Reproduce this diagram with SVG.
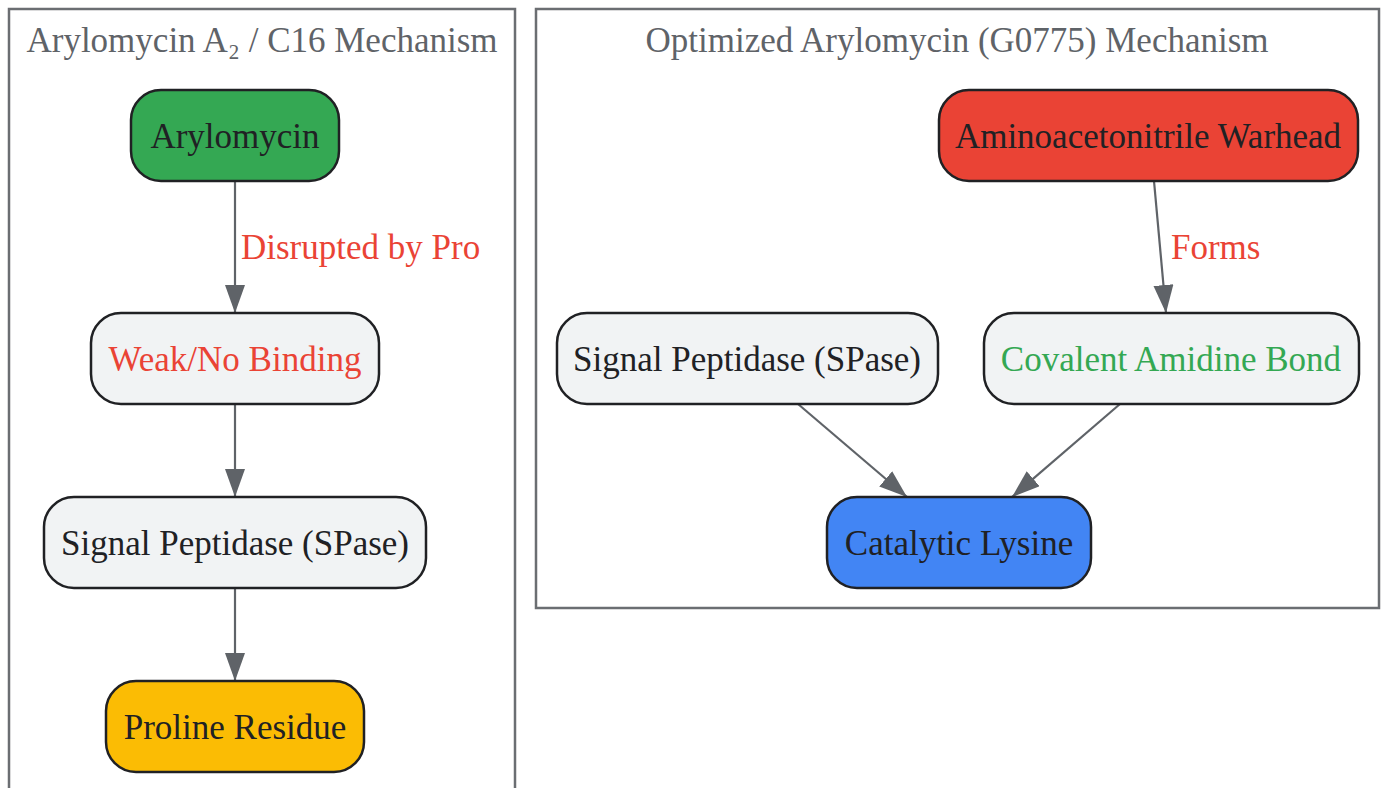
<svg xmlns="http://www.w3.org/2000/svg" width="1383" height="788" viewBox="0 0 1383 788">
<defs>
<marker id="arr" markerUnits="userSpaceOnUse" markerWidth="30" markerHeight="22" refX="28" refY="10" orient="auto">
<path d="M0,0 L28,10 L0,20 z" fill="#5f6368"/>
</marker>
<style>
text{font-family:"Liberation Serif","Times New Roman",serif;font-size:35px;}
.cl{fill:none;stroke:#6b6e72;stroke-width:2.5;}
.ct{fill:#5f6368;text-anchor:middle;}
.n{stroke:#202124;stroke-width:2.5;}
.nt{fill:#202124;text-anchor:middle;}
.e{fill:none;stroke:#5f6368;stroke-width:2.2;marker-end:url(#arr);}
.el{fill:#ea4335;}
</style>
</defs>
<rect width="1383" height="788" fill="#ffffff"/>
<g id="cluster-left">
<rect class="cl" x="9" y="9" width="506" height="800"/>
<text class="ct" x="262" y="52">Arylomycin A₂ / C16 Mechanism</text>
</g>
<g id="cluster-right">
<rect class="cl" x="536" y="9" width="843" height="599"/>
<text class="ct" x="957" y="52">Optimized Arylomycin (G0775) Mechanism</text>
</g>
<g id="connectors">
<line class="e" x1="235" y1="181" x2="235" y2="313"/>
<line class="e" x1="235" y1="404" x2="235" y2="497"/>
<line class="e" x1="235" y1="588" x2="235" y2="681"/>
<line class="e" x1="1154" y1="181" x2="1166" y2="313"/>
<line class="e" x1="798" y1="404" x2="907" y2="497"/>
<line class="e" x1="1120" y1="404" x2="1012" y2="497"/>
<text class="el" x="241" y="259">Disrupted by Pro</text>
<text class="el" x="1171" y="259">Forms</text>
</g>
<g id="node-arylomycin">
<rect class="n" x="131" y="90" width="208" height="91" rx="30" fill="#34a853"/>
<text class="nt" x="235" y="148">Arylomycin</text>
</g>
<g id="node-weak">
<rect class="n" x="91" y="313" width="288" height="91" rx="30" fill="#f1f3f4"/>
<text class="nt" x="235" y="371" fill="#ea4335" style="fill:#ea4335">Weak/No Binding</text>
</g>
<g id="node-spase-left">
<rect class="n" x="44" y="497" width="382" height="91" rx="30" fill="#f1f3f4"/>
<text class="nt" x="235" y="555">Signal Peptidase (SPase)</text>
</g>
<g id="node-proline">
<rect class="n" x="106" y="681" width="258" height="91" rx="30" fill="#fbbc04"/>
<text class="nt" x="235" y="739">Proline Residue</text>
</g>
<g id="node-warhead">
<rect class="n" x="939" y="90" width="419" height="91" rx="30" fill="#ea4335"/>
<text class="nt" x="1148" y="148">Aminoacetonitrile Warhead</text>
</g>
<g id="node-spase-right">
<rect class="n" x="557" y="313" width="381" height="91" rx="30" fill="#f1f3f4"/>
<text class="nt" x="747" y="371">Signal Peptidase (SPase)</text>
</g>
<g id="node-covalent">
<rect class="n" x="984" y="313" width="375" height="91" rx="30" fill="#f1f3f4"/>
<text class="nt" x="1171" y="371" style="fill:#34a853">Covalent Amidine Bond</text>
</g>
<g id="node-lysine">
<rect class="n" x="827" y="497" width="264" height="91" rx="30" fill="#4285f4"/>
<text class="nt" x="959" y="555">Catalytic Lysine</text>
</g>
</svg>
